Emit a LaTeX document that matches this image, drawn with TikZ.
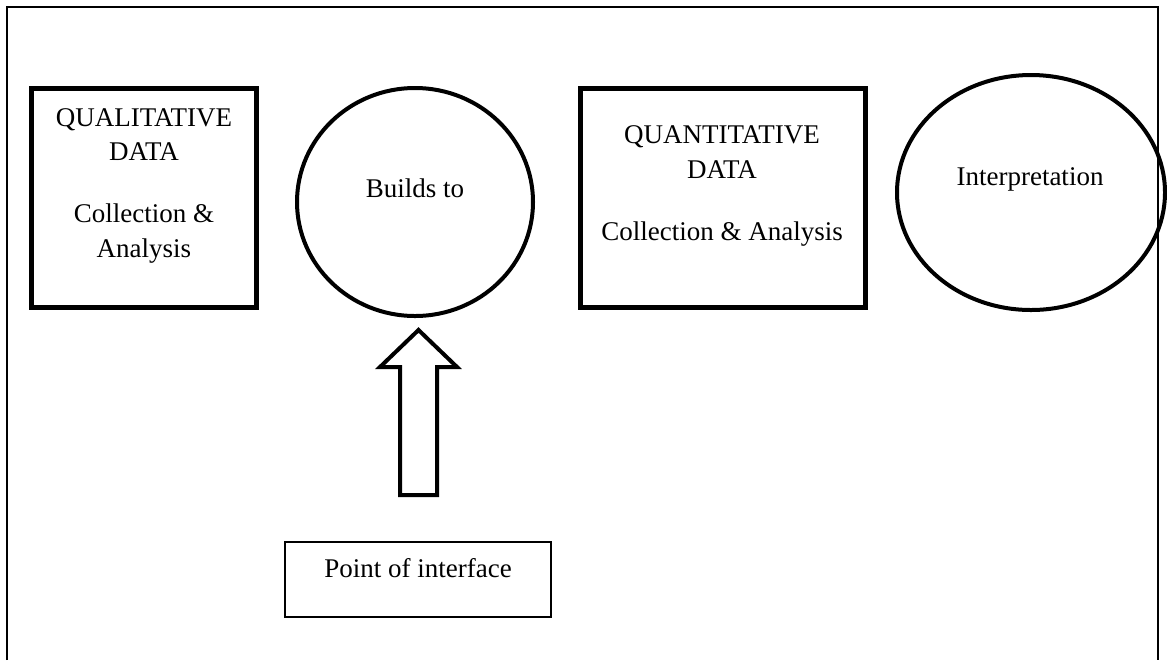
\documentclass[tikz,border=0pt]{standalone}
\usepackage{fontspec}
\setmainfont{Liberation Serif}
\usetikzlibrary{shapes.geometric,calc}

\begin{document}
\begin{tikzpicture}[
        x=0.5pt,y=-0.5pt,
        frame/.style={line width=1pt},
        databox/.style={draw,line width=2.5pt,rectangle,inner sep=0pt},
        bubble/.style={draw,line width=2pt,ellipse,inner sep=0pt},
        notebox/.style={draw,line width=0.6pt,rectangle,inner sep=0pt},
        txt/.style={anchor=base,align=center,inner sep=0pt,font=\fontsize{13.5}{17.25}\selectfont},
        blockarrow/.style={draw,line width=2pt,fill=white,line join=miter}
    ]
        \useasboundingbox (0,0) rectangle (1167,660);

        % Outer frame
        \draw[frame] (7,660) -- (7,7) -- (1158,7) -- (1158,660);

        % Define the nodes
        \node[databox,minimum width=112.5pt,minimum height=109.5pt] (qual) at (144,198) {};
        \node[bubble,minimum width=118pt,minimum height=114pt] (builds) at (415,202) {};
        \node[databox,minimum width=142.5pt,minimum height=109.5pt] (quan) at (723,198) {};
        \node[bubble,minimum width=134pt,minimum height=117.5pt] (interp) at (1031,192.5) {};
        \node[notebox,minimum width=133pt,minimum height=37.5pt] (poi) at (418,579.5) {};

        % Texts (base = last line)
        \node[txt] (qualtext) at (144,257) {QUALITATIVE\\DATA\\[13.75pt]Collection \&\\Analysis};
        \node[txt] (buildstext) at (415,197) {Builds to};
        \node[txt] (quantext) at (722,240) {QUANTITATIVE\\DATA\\[13.75pt]Collection \& Analysis};
        \node[txt] (interptext) at (1030,185) {Interpretation};
        \node[txt] (poitext) at (418,577) {Point of interface};

        % Block arrow up to the circle
        \coordinate (tip) at (418.5,330);
        \coordinate (tail) at (418.5,495);
        \draw[blockarrow] (tip) -- ++(38.5,37) -- ++(-20,0) -- ($(tail)+(18.5,0)$)
            -- ($(tail)+(-18.5,0)$) -- ++(0,-128) -- ++(-20,0) -- cycle;
    \end{tikzpicture}
\end{document}
